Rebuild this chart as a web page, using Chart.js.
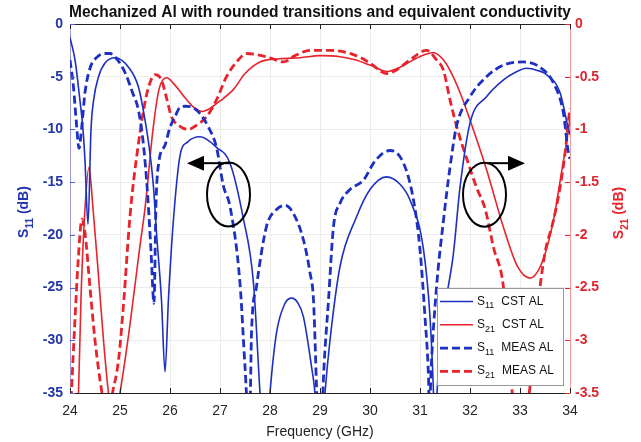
<!DOCTYPE html>
<html>
<head>
<meta charset="utf-8">
<script src="https://cdn.jsdelivr.net/npm/chart.js@4.4.1/dist/chart.umd.min.js"></script>
<style>
  html, body { margin: 0; padding: 0; background: #fff; }
</style>
</head>
<body>
<canvas id="chart" width="641" height="442"></canvas>
<script>
// frequency (GHz) / value pairs
const freqS11Cst = [24.0, 24.1, 24.2, 24.26, 24.3, 24.36, 24.42, 24.47, 24.57, 24.7, 24.9, 25.17, 25.37, 25.5, 25.6, 25.67,
    25.73, 25.83, 25.9, 25.97, 26.07, 26.2, 26.35, 26.6, 26.93, 27.2, 27.46, 27.67, 27.8, 27.9, 28.0, 28.13, 28.3, 28.43,
    28.55, 28.67, 28.83, 28.9, 29.0, 29.1, 29.2, 29.4, 29.73, 30.0, 30.33, 30.6, 30.8, 31.07, 31.2, 31.27, 31.3, 31.34,
    31.47, 31.67, 31.8, 32.0, 32.33, 32.67, 32.9, 33.13, 33.35, 33.53, 33.8, 33.97, 34.0];
const s11Cst = [-1.3, -3.4, -7.3, -10, -13, -19, -10, -7.3, -5, -3.7, -3.2, -4.1, -6, -9.1, -12.3, -15.5,
    -19.8, -26.2, -33, -26, -18.5, -12.5, -11.2, -10.7, -11.7, -13.2, -18.3, -24.6, -35, -42, -35, -29.3, -26.5, -26,
    -26.4, -27.8, -32.5, -35, -42, -35, -30, -23, -18.3, -15.7, -14.5, -15.2, -16.7, -21.4, -27.8, -35, -40, -35,
    -28, -21.7, -15.5, -9.4, -6.9, -5.3, -4.6, -4.2, -4.4, -4.8, -6.5, -10, -10.5];

const freqS11Meas = [24.0, 24.07, 24.13, 24.18, 24.23, 24.3, 24.4, 24.55, 24.7, 24.8, 24.95, 25.1, 25.25, 25.37, 25.47,
    25.55, 25.62, 25.68, 25.72, 25.78, 25.9, 26.0, 26.1, 26.2, 26.3, 26.45, 26.6, 26.77, 26.93, 27.07, 27.2, 27.4, 27.5,
    27.55, 27.6, 27.63, 27.73, 27.93, 28.13, 28.3, 28.47, 28.67, 28.8, 28.87, 28.93, 28.97, 29.02, 29.07, 29.17, 29.27,
    29.4, 29.6, 29.87, 30.1, 30.4, 30.67, 30.87, 31.0, 31.1, 31.17, 31.19, 31.22, 31.33, 31.47, 31.6, 31.73, 32.0, 32.33,
    32.67, 33.07, 33.4, 33.67, 33.87, 33.97, 34.0];
const s11Meas = [-3.4, -6, -9.5, -11.8, -10, -6.5, -4.2, -3.1, -2.8, -2.8, -3.4, -4.6, -6.5, -8.2, -11.5,
    -16, -21.5, -26.5, -17, -13, -11.5, -9.8, -8.8, -7.9, -7.8, -7.9, -8.5, -9.8, -11.7, -15.4, -17.3, -24.6, -32.5,
    -36, -36, -29.3, -24.9, -19.2, -17.6, -17.2, -18, -20.5, -23.6, -26.2, -34.4, -40, -40, -33.5, -26.2, -19.2,
    -17, -15.7, -14.8, -13, -12, -13.2, -16.7, -21.4, -27.8, -33.5, -37, -33, -25, -18.6, -13.6, -9.7, -6.9, -5,
    -3.9, -3.6, -4.1, -5.6, -8.5, -12.3, -12.8];

const freqS21Cst = [24.0, 24.1, 24.17, 24.22, 24.3, 24.38, 24.46, 24.56, 24.67, 24.77, 24.88, 25.0, 25.2, 25.4, 25.5,
    25.66, 25.78, 25.93, 26.1, 26.3, 26.5, 26.65, 26.8, 27.0, 27.27, 27.5, 27.8, 28.2, 28.6, 29.0, 29.4, 29.7, 30.0,
    30.35, 30.6, 30.87, 31.1, 31.27, 31.45, 31.6, 31.8, 32.0, 32.33, 32.67, 32.95, 33.2, 33.45, 33.67, 33.85, 33.97, 34.0];
const s21Cst = [-4.6, -4.0, -3.5, -2.6, -1.75, -1.36, -1.75, -2.33, -3.0, -3.5, -3.8, -3.5, -2.85, -2.1, -1.75,
    -1.0, -0.62, -0.51, -0.58, -0.7, -0.8, -0.83, -0.8, -0.73, -0.62, -0.47, -0.36, -0.33, -0.32, -0.3, -0.31, -0.34, -0.39,
    -0.45, -0.41, -0.34, -0.29, -0.27, -0.33, -0.44, -0.65, -0.91, -1.38, -1.93, -2.3, -2.41, -2.25, -1.86, -1.35, -1.0, -0.88];

const freqS21Meas = [24.0, 24.03, 24.1, 24.16, 24.24, 24.3, 24.4, 24.5, 24.64, 24.75, 24.85, 24.97, 25.08, 25.17, 25.23,
    25.35, 25.47, 25.57, 25.7, 25.83, 25.93, 26.03, 26.2, 26.37, 26.5, 26.73, 26.93, 27.13, 27.35, 27.53, 27.73, 28.0,
    28.27, 28.5, 28.8, 29.2, 29.67, 30.0, 30.33, 30.55, 30.8, 31.13, 31.33, 31.47, 31.6, 31.75, 31.95, 32.13, 32.3, 32.47,
    32.67, 32.8, 32.95, 33.1, 33.2, 33.3, 33.4, 33.5, 33.67, 33.8, 33.9, 33.97, 34.0];
const s21Meas = [-3.9, -3.5, -2.8, -2.27, -1.85, -1.98, -2.5, -3.0, -3.5, -3.75, -3.5, -3.19, -2.6, -2.0, -1.67,
    -1.2, -0.82, -0.6, -0.48, -0.53, -0.7, -0.88, -0.97, -1.0, -0.97, -0.88, -0.72, -0.5, -0.35, -0.28, -0.29, -0.32,
    -0.36, -0.3, -0.25, -0.25, -0.29, -0.37, -0.47, -0.43, -0.34, -0.25, -0.34, -0.44, -0.72, -1.0, -1.3, -1.55, -1.75, -2.12,
    -2.5, -3.28, -3.8, -3.75, -3.44, -2.97, -2.5, -2.17, -1.86, -1.55, -1.23, -0.91, -0.8];

const xTicks = [24, 25, 26, 27, 28, 29, 30, 31, 32, 33, 34];

const blue = '#1d30c2';
const red = '#e8232c';
const font = '"Liberation Sans", Arial, sans-serif';

const toPoints = (freq, values) => freq.map((f, i) => ({ x: f, y: values[i] }));

const makeSet = (label, freq, values, axis, color, dashed) => ({
    label,
    data: toPoints(freq, values),
    yAxisID: axis,
    borderColor: color,
    borderWidth: dashed ? 2.8 : 1.6,
    borderDash: dashed ? [8, 4] : [],
    pointRadius: 0,
    cubicInterpolationMode: 'monotone',
    clip: 0
});

// text with an S-parameter subscript, e.g. S + 11 + " (dB)"
const drawSubText = (ctx, x, y, main, sub, rest, size, weight, gap) => {
    ctx.font = `${weight} ${size}px ${font}`;
    ctx.fillText(main, x, y);
    let w = ctx.measureText(main).width;
    ctx.font = `${weight} ${Math.round(size * 0.72)}px ${font}`;
    ctx.fillText(sub, x + w, y + size * 0.33);
    w += ctx.measureText(sub).width + gap;
    ctx.font = `${weight} ${size}px ${font}`;
    ctx.fillText(rest, x + w, y);
    return w + ctx.measureText(rest).width;
};

const measureSubText = (ctx, main, sub, rest, size, weight, gap) => {
    ctx.font = `${weight} ${size}px ${font}`;
    let w = ctx.measureText(main).width + ctx.measureText(rest).width;
    ctx.font = `${weight} ${Math.round(size * 0.72)}px ${font}`;
    return w + ctx.measureText(sub).width + gap;
};

const drawArrow = (ctx, x0, y0, x1, y1) => {
    const dir = Math.sign(x1 - x0);
    ctx.beginPath();
    ctx.moveTo(x0, y0);
    ctx.lineTo(x1 - dir * 14, y1);
    ctx.stroke();
    ctx.beginPath();
    ctx.moveTo(x1, y1);
    ctx.lineTo(x1 - dir * 17, y1 - 7.5);
    ctx.lineTo(x1 - dir * 17, y1 + 7.5);
    ctx.closePath();
    ctx.fill();
};

const decorations = {
    id: 'decorations',
    afterDatasetsDraw(chart) {
        const { ctx, chartArea: a, scales: { x, y, y1 } } = chart;
        ctx.save();

        // box border on top and inward tick marks
        ctx.lineWidth = 1;
        ctx.strokeStyle = '#222';
        ctx.beginPath();
        ctx.moveTo(a.left, a.top + 0.5);
        ctx.lineTo(a.right, a.top + 0.5);
        xTicks.forEach(t => {
            const px = Math.round(x.getPixelForValue(t)) + 0.5;
            ctx.moveTo(px, a.top);
            ctx.lineTo(px, a.top + 5);
            ctx.moveTo(px, a.bottom);
            ctx.lineTo(px, a.bottom - 5);
        });
        ctx.stroke();
        ctx.strokeStyle = '#5a63c8';
        ctx.beginPath();
        y.ticks.forEach(t => {
            const py = Math.round(y.getPixelForValue(t.value)) + 0.5;
            ctx.moveTo(a.left, py);
            ctx.lineTo(a.left + 5, py);
        });
        ctx.stroke();
        ctx.strokeStyle = red;
        ctx.beginPath();
        y1.ticks.forEach(t => {
            const py = Math.round(y1.getPixelForValue(t.value)) + 0.5;
            ctx.moveTo(a.right, py);
            ctx.lineTo(a.right - 5, py);
        });
        ctx.stroke();

        // ellipses with arrows pointing at the axis each pair belongs to
        ctx.strokeStyle = '#000';
        ctx.fillStyle = '#000';
        ctx.lineWidth = 2;
        ctx.beginPath();
        ctx.ellipse(x.getPixelForValue(27.17), y.getPixelForValue(-16.17), 21.5, 32, 0, 0, Math.PI * 2);
        ctx.stroke();
        drawArrow(ctx, x.getPixelForValue(27.2), y.getPixelForValue(-13.2), x.getPixelForValue(26.34), y.getPixelForValue(-13.2));
        ctx.beginPath();
        ctx.ellipse(x.getPixelForValue(32.29), y1.getPixelForValue(-1.62), 21.5, 32, 0, 0, Math.PI * 2);
        ctx.stroke();
        drawArrow(ctx, x.getPixelForValue(32.34), y1.getPixelForValue(-1.32), x.getPixelForValue(33.1), y1.getPixelForValue(-1.32));

        // legend box in the lower right corner
        const lx = a.right - 133, ly = a.bottom - 105, lw = 126, lh = 97;
        ctx.fillStyle = '#fff';
        ctx.fillRect(lx, ly, lw, lh);
        ctx.strokeStyle = '#9a9a9a';
        ctx.lineWidth = 1;
        ctx.strokeRect(lx + 0.5, ly + 0.5, lw, lh);
        const order = [0, 2, 1, 3];
        order.forEach((di, i) => {
            const ds = chart.data.datasets[di];
            const rowY = ly + 13.5 + i * 23.3;
            ctx.strokeStyle = ds.borderColor;
            ctx.lineWidth = ds.borderWidth;
            ctx.setLineDash(ds.borderDash);
            ctx.beginPath();
            ctx.moveTo(lx + 3, rowY);
            ctx.lineTo(lx + 36, rowY);
            ctx.stroke();
            ctx.setLineDash([]);
            const [, sub, rest] = ds.label.match(/^S(\d+) (.*)$/);
            ctx.fillStyle = '#111';
            ctx.textBaseline = 'alphabetic';
            ctx.textAlign = 'left';
            drawSubText(ctx, lx + 40, rowY + 3, 'S', sub, rest, 12, 'normal', 7);
        });
        ctx.restore();
    },
    afterDraw(chart) {
        const { ctx, chartArea: a } = chart;
        ctx.save();
        ctx.textBaseline = 'alphabetic';
        ctx.textAlign = 'left';

        // title, squeezed to the width of the plot box
        const title = 'Mechanized Al with rounded transitions and equivalent conductivity';
        ctx.font = `bold 16px ${font}`;
        const tw = ctx.measureText(title).width;
        const sx = Math.min(1, 502 / tw);
        ctx.fillStyle = '#111';
        ctx.translate((a.left + a.right) / 2, 17);
        ctx.scale(sx, 1);
        ctx.fillText(title, -tw / 2, 0);
        ctx.setTransform(1, 0, 0, 1, 0, 0);

        // x axis title
        ctx.font = `14px ${font}`;
        ctx.fillStyle = '#222';
        ctx.textAlign = 'center';
        ctx.fillText('Frequency (GHz)', (a.left + a.right) / 2, 436);
        ctx.textAlign = 'left';

        // rotated y axis titles
        const yTitle = (cx, cy, sub, color) => {
            const w = measureSubText(ctx, 'S', sub, ' (dB)', 14, 'bold', 0);
            ctx.save();
            ctx.translate(cx, cy);
            ctx.rotate(-Math.PI / 2);
            ctx.fillStyle = color;
            drawSubText(ctx, -w / 2, 0, 'S', sub, ' (dB)', 14, 'bold', 0);
            ctx.restore();
        };
        yTitle(28, 212, '11', '#2335b0');
        yTitle(623, 213, '21', red);
        ctx.restore();
    }
};

const tickFont = { family: font, size: 14, weight: 'bold' };

new Chart(document.getElementById('chart'), {
    type: 'line',
    data: {
        datasets: [
            makeSet('S11 CST AL', freqS11Cst, s11Cst, 'y', blue, false),
            makeSet('S11 MEAS AL', freqS11Meas, s11Meas, 'y', blue, true),
            makeSet('S21 CST AL', freqS21Cst, s21Cst, 'y1', red, false),
            makeSet('S21 MEAS AL', freqS21Meas, s21Meas, 'y1', red, true)
        ]
    },
    options: {
        responsive: false,
        animation: false,
        layout: { padding: { top: 24, left: 0, right: 0, bottom: 0 } },
        plugins: {
            legend: { display: false },
            tooltip: { enabled: false }
        },
        scales: {
            x: {
                type: 'linear',
                min: 24,
                max: 34,
                ticks: { stepSize: 1, padding: 10, color: '#262626', font: { family: font, size: 14 }, callback: v => String(v) },
                grid: { color: '#ececec', drawTicks: false },
                border: { color: '#222' },
                afterFit: s => { s.height = 49; }
            },
            y: {
                position: 'left',
                min: -35,
                max: 0,
                ticks: { stepSize: 5, padding: 7, color: '#2335a8', font: tickFont, callback: v => String(v) },
                grid: { color: '#ececec', drawTicks: false },
                border: { color: '#9a9ad6' },
                afterFit: s => { s.width = 70; }
            },
            y1: {
                position: 'right',
                min: -3.5,
                max: 0,
                ticks: { stepSize: 0.5, padding: 5, color: '#df2630', font: tickFont, callback: v => String(v) },
                grid: { drawOnChartArea: false, drawTicks: false },
                border: { color: '#f29a9a' },
                afterFit: s => { s.width = 71; }
            }
        }
    },
    plugins: [decorations]
});
</script>
</body>
</html>
